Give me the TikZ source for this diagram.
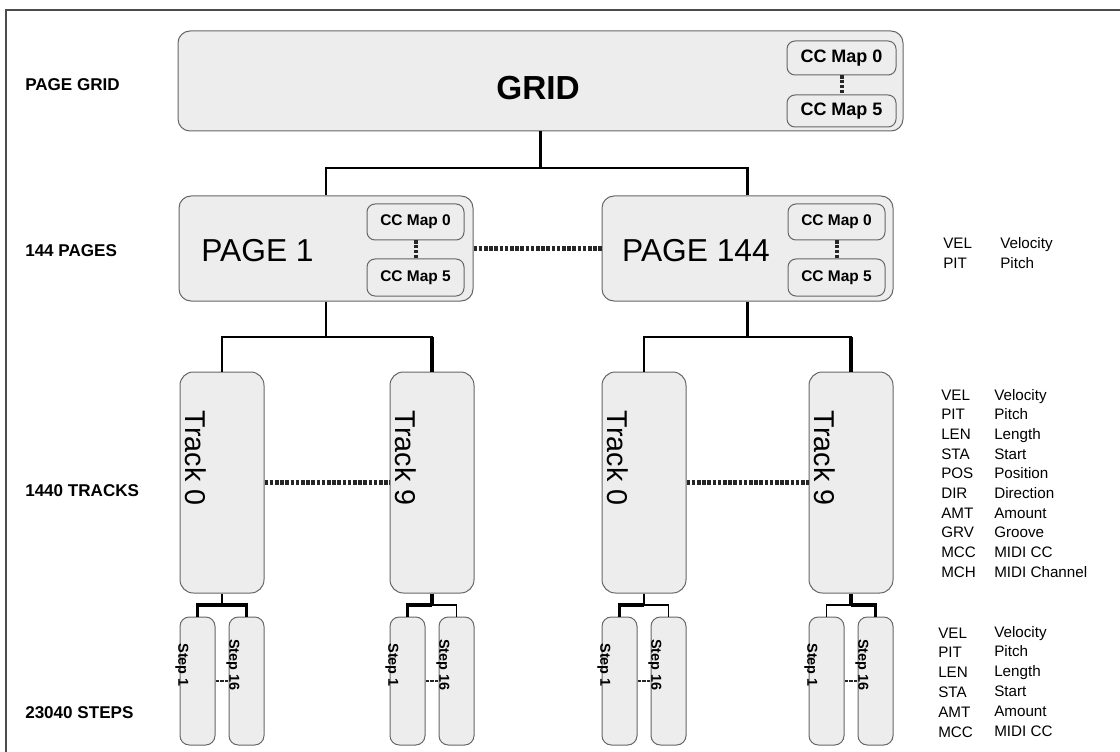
\documentclass[tikz,border=0pt]{standalone}
\usepackage{fontspec}
\setmainfont{Liberation Sans}
\usetikzlibrary{fit}
\begin{document}
\begin{tikzpicture}[x=0.75pt,y=-0.75pt,
  box/.style={draw=black!60, fill=black!7, line width=0.75pt, rounded corners=9pt, inner sep=0pt},
  ccbox/.style={draw=black!60, fill=black!7, line width=0.75pt, rounded corners=6pt, inner sep=0pt},
  lnA/.style={line width=1.4pt},
  lnB/.style={line width=2.4pt},
  dots/.style={line width=3.6pt, dash pattern=on 2.8pt off 1.1pt, black!85},
  sdots/.style={line width=3pt, dash pattern=on 2.4pt off 1.2pt, black!85},
  rowlbl/.style={font=\bfseries\fontsize{12.8}{15}\selectfont, anchor=west, inner sep=0pt},
  leg/.style={font=\fontsize{11.4}{13}\selectfont, anchor=base west, inner sep=0pt},
  cctxt/.style={font=\bfseries\fontsize{11.6}{13}\selectfont, inner sep=0pt},
  bigtxt/.style={font=\fontsize{23.8}{28}\selectfont, inner sep=0pt},
  trtxt/.style={font=\fontsize{21.5}{25}\selectfont, rotate=-90, inner sep=0pt},
  sttxt/.style={font=\bfseries\fontsize{10.8}{13}\selectfont, rotate=-90, inner sep=0pt},
  ]
\useasboundingbox (0,0) rectangle (1120,752);
\draw[line width=1.2pt, black!70] (6,752) -- (6,10) -- (1120,10);

% row labels
\node[rowlbl] (rl1) at (25,85) {PAGE GRID};
\node[rowlbl] (rl2) at (25,251) {144 PAGES};
\node[rowlbl] (rl3) at (25,491) {1440 TRACKS};
\node[rowlbl] (rl4) at (25,713) {23040 STEPS};

% grid
\node[box, fit={(178,31) (903,131)}] (grid) {};
\node[font=\bfseries\fontsize{25}{29}\selectfont, inner sep=0pt] (gridtxt) at (538,88) {GRID};
\node[ccbox, fit={(787,41) (896,75)}] (gcc0) {};
\node[ccbox, fit={(787,95) (896,127)}] (gcc5) {};
\node[cctxt, font=\bfseries\fontsize{13.5}{15}\selectfont] (gcc0t) at (gcc0.center) {CC Map 0};
\node[cctxt, font=\bfseries\fontsize{13.5}{15}\selectfont] (gcc5t) at (gcc5.center) {CC Map 5};
\draw[sdots] (gcc0.south) -- (gcc5.north);

% pages
\node[box, fit={(179,196) (473,301)}] (page1) {};
\node[bigtxt] (p1t) at (257.5,251) {PAGE 1};
\node[ccbox, fit={(367,204) (464,240)}] (p1cc0) {};
\node[ccbox, fit={(367,259) (464,296)}] (p1cc5) {};
\node[cctxt] (p1cc0t) at (p1cc0.center) {CC Map 0};
\node[cctxt] (p1cc5t) at (p1cc5.center) {CC Map 5};
\draw[sdots] (p1cc0.south) -- (p1cc5.north);

\node[box, fit={(602,196) (893,301)}] (page144) {};
\node[bigtxt] (p2t) at (696,251) {PAGE 144};
\node[ccbox, fit={(788,204) (885,240)}] (p2cc0) {};
\node[ccbox, fit={(788,259) (885,296)}] (p2cc5) {};
\node[cctxt] (p2cc0t) at (p2cc0.center) {CC Map 0};
\node[cctxt] (p2cc5t) at (p2cc5.center) {CC Map 5};
\draw[sdots] (p2cc0.south) -- (p2cc5.north);

\draw[dots] (page1.east) -- (page144.west);

% grid connectors
\coordinate (jg) at (540.5,168);
\draw[lnB] (grid.south) -- (jg);
\draw[lnA] (page1.north) |- (jg);
\draw[lnA, line width=1.7pt] (page144.north) |- (jg);

% tracks and steps
\foreach \L/\n/\lab in {180/a/Track 0, 390/b/Track 9, 602/c/Track 0, 809/d/Track 9}{
  \node[box, rounded corners=10pt, fit={(\L,372) (\L+84,593)}] (tr\n) {};
  \node[trtxt] (tr\n t) at (\L+15.5,458) {\lab};
  \node[box, rounded corners=7pt, fit={(\L,617) (\L+35,745)}] (s\n1) {};
  \node[box, rounded corners=7pt, fit={(\L+49,617) (\L+84,745)}] (s\n2) {};
  \node[sttxt] (s\n1t) at (\L+2,665) {Step 1};
  \node[sttxt] (s\n2t) at (\L+53,665) {Step 16};
  \draw[sdots, line width=2pt] (s\n1.east) -- (s\n2.west);
  \coordinate (jt\n) at (\L+42,605);
}
\draw[dots] (tra.east) -- (trb.west);
\draw[dots] (trc.east) -- (trd.west);

% page to tracks
\coordinate (jp1) at (326,337);
\coordinate (jp2) at (747.5,337);
\draw[lnA] (page1.south) -- (jp1);
\draw[lnA] (tra.north) |- (jp1);
\draw[lnA] (trb.north) |- (jp1);
\draw[lnB] (trb.north) -- (trb.north |- jp1);
\draw[lnB] (page144.south) -- (jp2);
\draw[lnA] (trc.north) |- (jp2);
\draw[lnA] (trd.north) |- (jp2);
\draw[lnB] (trd.north) -- (trd.north |- jp2);

% track to steps
\draw[lnA] (tra.south) -- (jta);
\draw[lnB] (sa1.north) |- (jta);
\draw[lnB] (sa2.north) |- (jta);
\draw[lnA] (sa1.north) -- (sa1.north |- jta);
\draw[lnB] (trb.south) -- (jtb);
\draw[lnB] (sb1.north) |- (jtb);
\draw[lnA] (sb2.north) |- (jtb);
\draw[lnA] (trc.south) -- (jtc);
\draw[lnB] (sc1.north) |- (jtc);
\draw[lnA] (sc2.north) |- (jtc);
\draw[lnB] (trd.south) -- (jtd);
\draw[lnA] (sd1.north) |- (jtd);
\draw[lnB] (sd2.north) |- (jtd);

% legends
\node[leg] (lp1a) at (943,248) {VEL};
\node[leg] (lp1b) at (1000,248) {Velocity};
\node[leg] (lp2a) at (943,268) {PIT};
\node[leg] (lp2b) at (1000,268) {Pitch};

\foreach \i/\a/\b in {0/VEL/Velocity,1/PIT/Pitch,2/LEN/Length,3/STA/Start,4/POS/Position,5/DIR/Direction,6/AMT/Amount,7/GRV/Groove,8/MCC/MIDI CC,9/MCH/MIDI Channel}{
  \node[leg] (lt\i a) at (941,400+19.7*\i) {\a};
  \node[leg] (lt\i b) at (994,400+19.7*\i) {\b};
}
\foreach \i/\a/\b in {0/VEL/Velocity,1/PIT/Pitch,2/LEN/Length,3/STA/Start,4/AMT/Amount,5/MCC/MIDI CC}{
  \node[leg] (ls\i a) at (938,638+19.8*\i) {\a};
  \node[leg] (ls\i b) at (994,637+19.8*\i) {\b};
}
\end{tikzpicture}
\end{document}
